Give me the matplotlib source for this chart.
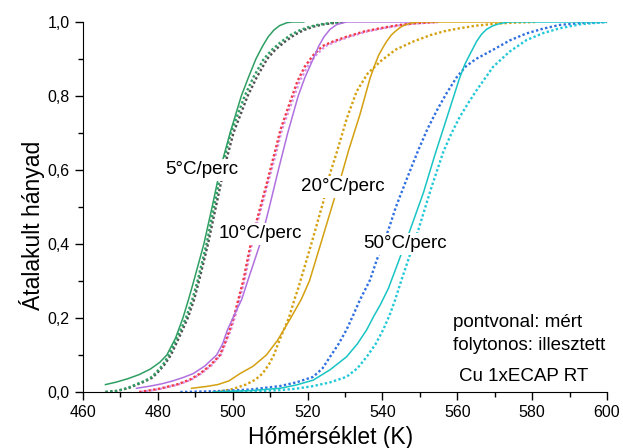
import matplotlib.pyplot as plt
from matplotlib.ticker import MultipleLocator, FuncFormatter

plt.rcParams['font.family'] = ['Liberation Sans', 'DejaVu Sans']

# 5 C/perc
t5_fit = [466, 469, 472, 475, 478, 480.5, 482.4, 484.7, 486.7, 488.2, 489.6, 492.3, 494.5, 496.6, 499.3, 502.3, 504.2, 506.2, 508, 509.5, 511, 512.5, 514.5, 516, 519]
y5_fit = [0.02, 0.027, 0.036, 0.047, 0.062, 0.08, 0.1, 0.145, 0.2, 0.25, 0.3, 0.4, 0.5, 0.6, 0.7, 0.8, 0.85, 0.9, 0.935, 0.96, 0.978, 0.99, 0.998, 1.0, 1.0]
t5_meas = [466, 469, 472, 474, 476, 478, 479.5, 481.3, 483, 485.3, 487.5, 489.2, 490.6, 493, 495, 497, 499.5, 503.2, 505.5, 508.3, 510.5, 513, 515.5, 518, 520.5, 523, 526, 529]
y5_meas = [0.0, 0.003, 0.011, 0.02, 0.028, 0.038, 0.052, 0.073, 0.1, 0.15, 0.2, 0.25, 0.3, 0.4, 0.5, 0.6, 0.7, 0.8, 0.85, 0.9, 0.925, 0.947, 0.965, 0.978, 0.987, 0.993, 0.997, 1.0]
t5_meas2 = [466, 469.2, 472.3, 474.4, 476.4, 478.4, 479.9, 481.7, 483.5, 485.8, 488, 489.7, 491, 493.4, 495.5, 497.6, 500.2, 504, 506.4, 509.2, 511.4, 514, 516.5, 519, 521.5, 524, 527, 530]

# 10 C/perc
t10_fit = [474.3, 478, 481, 484, 487, 489.5, 492.5, 495.7, 497.3, 498.6, 500.5, 502.4, 504, 507.3, 509.8, 512.2, 514.7, 517.5, 519.3, 521.5, 523, 524.4, 526, 527.8, 530.4, 547.5]
y10_fit = [0.01, 0.016, 0.022, 0.03, 0.04, 0.05, 0.07, 0.1, 0.13, 0.168, 0.21, 0.25, 0.3, 0.4, 0.5, 0.6, 0.7, 0.8, 0.85, 0.9, 0.935, 0.96, 0.98, 0.993, 1.0, 1.0]
t10_meas = [475, 480, 485, 488.5, 491.3, 494, 496.6, 498, 499.2, 500.5, 501.5, 502.8, 504.6, 506.6, 509, 511.3, 512.8, 515.2, 517.3, 519.3, 521.5, 524, 527, 530.4, 535, 539.4, 544, 548.2, 554.6]
y10_meas = [0.0, 0.008, 0.02, 0.033, 0.05, 0.072, 0.1, 0.135, 0.168, 0.21, 0.25, 0.3, 0.39, 0.47, 0.56, 0.65, 0.71, 0.78, 0.84, 0.88, 0.91, 0.935, 0.948, 0.96, 0.974, 0.983, 0.991, 0.996, 1.0]
t10_meas2 = [475.5, 480.5, 485.4, 488.9, 491.6, 494.3, 496.8, 498.2, 499.5, 500.8, 501.8, 503.1, 504.9, 506.9, 509.3, 511.7, 513.2, 515.7, 517.9, 520, 522.2, 524.8, 527.8, 531.2, 535.8, 540.2, 544.8, 549, 555.4]

# 20 C/perc
t20_fit = [489, 493, 496, 499, 502, 505.5, 509, 512, 515.5, 518.3, 520.5, 523.5, 526.9, 529.2, 531, 534, 536.7, 538, 539, 540.2, 541.1, 542.4, 543.5, 544.6, 545.6, 547.5, 550, 572]
y20_fit = [0.01, 0.015, 0.02, 0.03, 0.05, 0.07, 0.1, 0.14, 0.2, 0.25, 0.3, 0.4, 0.514, 0.59, 0.654, 0.75, 0.848, 0.885, 0.91, 0.932, 0.947, 0.965, 0.975, 0.984, 0.99, 0.997, 1.0, 1.0]
t20_meas = [495.7, 500, 503.5, 506, 508, 509.7, 511, 512.5, 515, 516.5, 517.5, 521, 524.2, 526, 528, 530.5, 533.1, 536, 539.4, 543.5, 548.2, 553, 557, 560.7, 565, 570, 575, 581]
y20_meas = [0.0, 0.008, 0.02, 0.033, 0.05, 0.075, 0.1, 0.14, 0.2, 0.25, 0.28, 0.4, 0.514, 0.59, 0.654, 0.74, 0.812, 0.86, 0.893, 0.925, 0.947, 0.965, 0.976, 0.983, 0.99, 0.995, 0.998, 1.0]

# 50 C/perc
t50_fit = [494.7, 505, 512.6, 517, 521.5, 526, 530.4, 533.3, 535.8, 537.7, 539.4, 541.6, 544.2, 547.4, 551, 554, 557.5, 560.5, 562, 563.5, 565.2, 566.5, 567.8, 569.6, 571.5, 574, 600]
y50_fit = [0.0, 0.004, 0.01, 0.019, 0.032, 0.06, 0.095, 0.13, 0.168, 0.205, 0.235, 0.28, 0.35, 0.438, 0.54, 0.64, 0.75, 0.845, 0.885, 0.915, 0.948, 0.967, 0.98, 0.99, 0.996, 1.0, 1.0]
t50_meas = [486, 495, 505, 512.6, 517, 521.5, 524, 526, 528.3, 530.4, 532.3, 534, 536.7, 538.5, 541.6, 543.6, 546.4, 549.6, 552, 554.5, 557, 559.8, 562.3, 565, 569.6, 574, 578.5, 583, 587.4, 593, 600]
y50_meas = [0.0, 0.002, 0.007, 0.016, 0.026, 0.041, 0.064, 0.095, 0.13, 0.168, 0.21, 0.249, 0.303, 0.357, 0.438, 0.5, 0.573, 0.654, 0.71, 0.76, 0.805, 0.85, 0.88, 0.9, 0.925, 0.95, 0.969, 0.982, 0.992, 0.997, 1.0]
t50_meas2 = [497, 505, 512.6, 517, 521.5, 526, 530.4, 533.3, 535.8, 538.2, 540.2, 542, 543.4, 545, 546.9, 549.6, 553, 556.3, 558.5, 560.7, 563, 565.2, 569.6, 574, 578.5, 583, 587.4, 593, 600]
y50_meas2 = [0.0, 0.002, 0.005, 0.009, 0.016, 0.026, 0.041, 0.064, 0.095, 0.13, 0.168, 0.21, 0.249, 0.3, 0.357, 0.438, 0.55, 0.65, 0.7, 0.744, 0.782, 0.816, 0.879, 0.92, 0.951, 0.97, 0.983, 0.994, 1.0]

rate_labels = ['5°C/perc', '10°C/perc', '20°C/perc', '50°C/perc']
label_pos = [(491.7, 0.6), (507.3, 0.427), (529.3, 0.554), (546, 0.4)]

fig = plt.figure(figsize=(6.23, 4.48), dpi=100)
ax = fig.add_axes([0.1332, 0.125, 0.8411, 0.826])

dots = (0, (1, 1))
lw_d = 1.7
lw_s = 1.1

ax.plot(t5_meas2, y5_meas, color='#505050', ls=dots, lw=lw_d)
ax.plot(t5_meas, y5_meas, color='#2e9e62', ls=dots, lw=lw_d)
ax.plot(t5_fit, y5_fit, color='#2e9e62', lw=lw_s)

ax.plot(t10_meas2, y10_meas, color='#d890e8', ls=dots, lw=lw_d)
ax.plot(t10_meas, y10_meas, color='#f03a4a', ls=dots, lw=lw_d)
ax.plot(t10_fit, y10_fit, color='#b070e0', lw=lw_s)

ax.plot(t20_meas, y20_meas, color='#d4a010', ls=dots, lw=lw_d)
ax.plot(t20_fit, y20_fit, color='#d4a010', lw=lw_s)

ax.plot(t50_meas, y50_meas, color='#2f6fe0', ls=dots, lw=lw_d)
ax.plot(t50_meas2, y50_meas2, color='#20c8d8', ls=dots, lw=lw_d)
ax.plot(t50_fit, y50_fit, color='#18c4c4', lw=lw_s)

for txt, (tx, ty) in zip(rate_labels, label_pos):
    ax.text(tx, ty, txt, ha='center', va='center', fontsize=13.5, zorder=5,
            bbox=dict(facecolor='white', edgecolor='none', pad=1.5))

ax.text(558.9, 0.187, 'pontvonal: mért', fontsize=13.5, va='center')
ax.text(558.9, 0.127, 'folytonos: illesztett', fontsize=13.5, va='center')
ax.text(560.5, 0.043, 'Cu 1xECAP RT', fontsize=13.5, va='center')

ax.set_xlim(460, 600)
ax.set_ylim(0, 1.0)
ax.xaxis.set_major_locator(MultipleLocator(20))
ax.xaxis.set_minor_locator(MultipleLocator(10))
ax.yaxis.set_major_locator(MultipleLocator(0.2))
ax.yaxis.set_minor_locator(MultipleLocator(0.1))
ax.yaxis.set_major_formatter(FuncFormatter(lambda v, p: f'{v:.1f}'.replace('.', ',')))
ax.tick_params(which='major', direction='out', length=6, width=1, labelsize=11.5)
ax.tick_params(which='minor', direction='out', length=3.5, width=1)

ax.spines['top'].set_visible(False)
ax.spines['right'].set_visible(False)

ax.set_xlabel('Hőmérséklet (K)', fontsize=16.5)
ax.set_ylabel('Átalakult hányad', fontsize=16.5)
ax.xaxis.set_label_coords(0.473, -0.093)
ax.yaxis.set_label_coords(-0.073, 0.45)

fig.savefig('out.png', dpi=100)
